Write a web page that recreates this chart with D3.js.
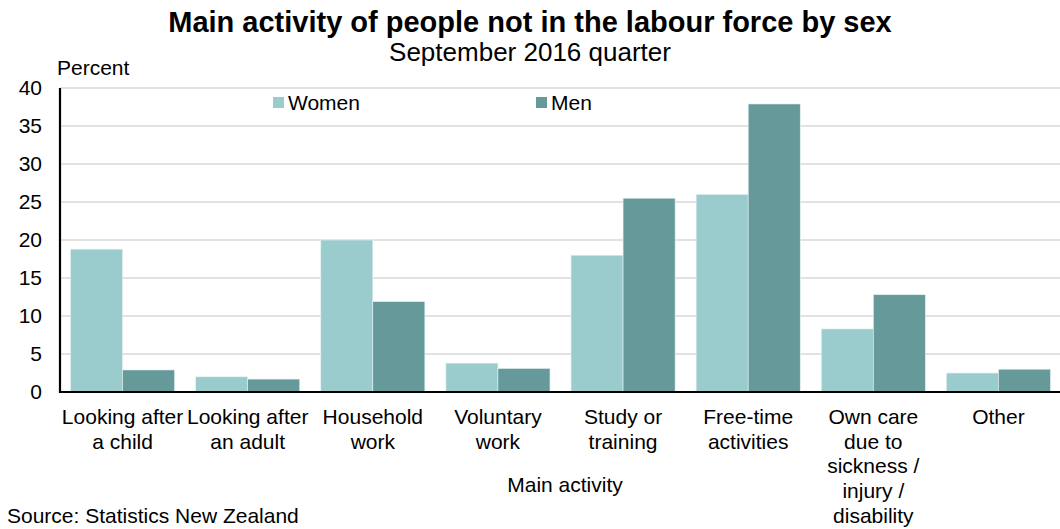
<!DOCTYPE html>
<html>
<head>
<meta charset="utf-8">
<script src="https://cdn.jsdelivr.net/npm/d3@7"></script>
<style>
  html, body { margin: 0; padding: 0; background: #fff; }
  svg { display: block; font-family: "Liberation Sans", Arial, sans-serif; }
</style>
</head>
<body>
<svg id="chart" width="1060" height="529"></svg>
<script>
// Main activity categories (each label split into its display lines)
const categories = [
  ["Looking after", "a child"],
  ["Looking after", "an adult"],
  ["Household", "work"],
  ["Voluntary", "work"],
  ["Study or", "training"],
  ["Free-time", "activities"],
  ["Own care", "due to", "sickness /", "injury /", "disability"],
  ["Other"]
];
const seriesNames = ["Women", "Men"];
const women = [18.8, 2.0, 20.0, 3.8, 18.0, 26.0, 8.3, 2.5];
const men   = [2.9, 1.7, 11.9, 3.1, 25.5, 37.9, 12.8, 3.0];
const yTicks = [0, 5, 10, 15, 20, 25, 30, 35, 40];
const colors = ["#9bcccd", "#669999"];

(function draw() {
  const svg = d3.select("#chart");
  const plotLeft = 60, plotRight = 1061, plotTop = 88, plotBottom = 392;
  const labelSize = 21;

  const keys = categories.map(c => c.join(" "));
  const x = d3.scaleBand().domain(keys).range([plotLeft, plotRight])
    .paddingInner(0.168).paddingOuter(0.084);
  const xs = d3.scaleBand().domain(seriesNames).range([0, x.bandwidth()]);
  const y = d3.scaleLinear().domain([0, 40]).range([plotBottom, plotTop]);

  // Gridlines
  svg.append("g")
    .selectAll("line")
    .data(yTicks.filter(t => t > 0))
    .join("line")
    .attr("x1", plotLeft).attr("x2", plotRight)
    .attr("y1", d => y(d)).attr("y2", d => y(d))
    .attr("stroke", "#d9d9d9").attr("stroke-width", 1.5);

  // Bars
  const rows = keys.map((k, i) => ({ key: k, values: [women[i], men[i]] }));
  const groups = svg.append("g").selectAll("g")
    .data(rows).join("g")
    .attr("transform", d => `translate(${x(d.key)},0)`);
  groups.selectAll("rect")
    .data(d => d.values.map((v, j) => ({ s: seriesNames[j], v, j })))
    .join("rect")
    .attr("x", d => xs(d.s))
    .attr("y", d => y(d.v))
    .attr("width", xs.bandwidth())
    .attr("height", d => y(0) - y(d.v))
    .attr("fill", d => colors[d.j])
    .attr("stroke", "#e6f2f2").attr("stroke-width", 0.6);

  // Y axis
  const yAxis = d3.axisLeft(y).tickValues(yTicks).tickSize(0).tickPadding(18);
  const yg = svg.append("g").attr("transform", `translate(${plotLeft},0)`).call(yAxis);
  yg.select(".domain").remove();
  yg.selectAll("text").attr("font-size", labelSize).attr("fill", "#000")
    .attr("font-family", "Liberation Sans, Arial, sans-serif");

  // Axis lines
  svg.append("line").attr("x1", plotLeft).attr("x2", plotLeft).attr("y1", plotTop).attr("y2", plotBottom + 1)
    .attr("stroke", "#000").attr("stroke-width", 2.2);
  svg.append("line").attr("x1", plotLeft - 1).attr("x2", plotRight).attr("y1", plotBottom).attr("y2", plotBottom)
    .attr("stroke", "#000").attr("stroke-width", 2.2);

  // Category labels
  const xl = svg.append("g");
  categories.forEach((lines, i) => {
    const cx = x(keys[i]) + x.bandwidth() / 2;
    const t = xl.append("text")
      .attr("x", cx).attr("y", 424)
      .attr("text-anchor", "middle")
      .attr("font-size", labelSize).attr("fill", "#000");
    lines.forEach((ln, k) => {
      t.append("tspan").attr("x", cx).attr("dy", k === 0 ? 0 : 24.7).text(ln);
    });
  });

  // Titles
  svg.append("text").attr("x", 530).attr("y", 32).attr("text-anchor", "middle")
    .attr("font-size", 29).attr("font-weight", "bold")
    .text("Main activity of people not in the labour force by sex");
  svg.append("text").attr("x", 530).attr("y", 61).attr("text-anchor", "middle")
    .attr("font-size", 26)
    .text("September 2016 quarter");

  svg.append("text").attr("x", 57).attr("y", 75).attr("font-size", labelSize).text("Percent");
  svg.append("text").attr("x", 565).attr("y", 492).attr("text-anchor", "middle")
    .attr("font-size", labelSize).text("Main activity");
  svg.append("text").attr("x", 7).attr("y", 523).attr("font-size", labelSize)
    .text("Source: Statistics New Zealand");

  // Legend
  const legendX = [273, 536];
  const lg = svg.append("g");
  seriesNames.forEach((s, i) => {
    lg.append("rect").attr("x", legendX[i]).attr("y", 97).attr("width", 11).attr("height", 11)
      .attr("fill", colors[i]);
    lg.append("text").attr("x", legendX[i] + 15).attr("y", 110).attr("font-size", labelSize).text(s);
  });
})();
</script>
</body>
</html>
